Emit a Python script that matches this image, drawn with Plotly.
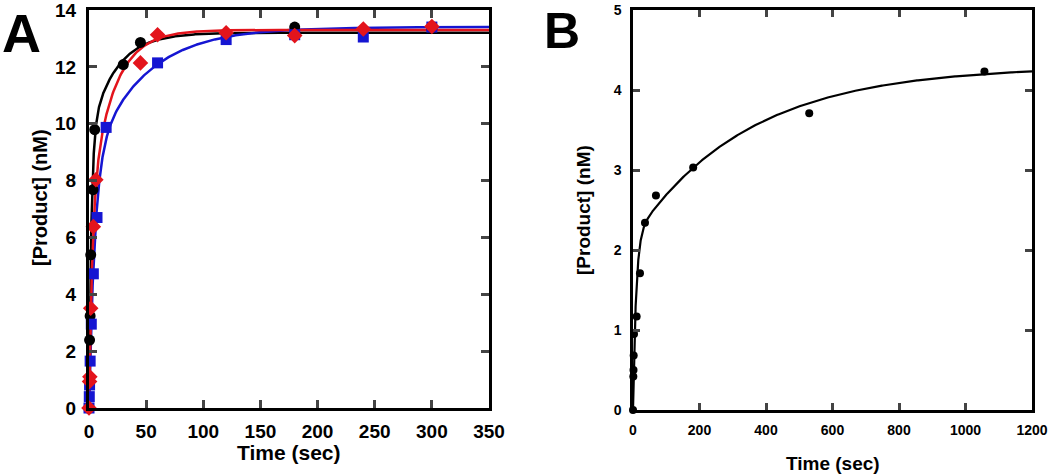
import numpy as np
import plotly.graph_objects as go

# ---------------- Panel A data ----------------
black_t = [0, 0.5, 1, 1.5, 3.5, 5, 30, 45, 180, 300]
black_y = [0, 2.39, 3.24, 5.39, 7.68, 9.79, 12.08, 12.86, 13.40, 13.35]

red_t = [0, 0.5, 0.75, 1.5, 3.8, 6, 45, 60, 120, 180, 240, 300]
red_y = [0, 0.93, 1.10, 3.51, 6.38, 8.03, 12.14, 13.13, 13.20, 13.10, 13.33, 13.42]

blue_t = [0, 0.25, 0.5, 1, 2, 3.8, 7, 15, 60, 120, 180, 240, 300]
blue_y = [0, 0.40, 0.81, 1.65, 2.95, 4.72, 6.70, 9.87, 12.14, 12.96, 13.13, 13.05, 13.40]

# double-exponential fit parameters (A1, k1, A2, k2)
black_fit = (9.5, 0.5, 3.7, 0.045)
red_fit = (7.0, 0.35, 6.3, 0.05)
blue_fit = (8.5, 0.2, 4.9, 0.022)

# ---------------- Panel B data ----------------
b_t = [0, 1, 1.5, 2, 3, 11, 21, 36, 69, 181, 530, 1057]
b_y = [0, 0.42, 0.50, 0.68, 0.95, 1.17, 1.71, 2.34, 2.68, 3.03, 3.71, 4.23]
b_fit = (2.15, 0.11, 2.15, 0.0029)

a_xticks = [0, 50, 100, 150, 200, 250, 300, 350]
a_yticks = [0, 2, 4, 6, 8, 10, 12, 14]
b_xticks = [0, 200, 400, 600, 800, 1000, 1200]
b_yticks = [0, 1, 2, 3, 4, 5]

RED = "#e3141c"
BLUE = "#1515d2"


def model(t, p):
    a1, k1, a2, k2 = p
    t = np.asarray(t, dtype=float)
    return a1 * (1 - np.exp(-k1 * t)) + a2 * (1 - np.exp(-k2 * t))


ta = np.concatenate([np.linspace(0, 20, 300), np.linspace(20, 350, 400)])
tb = np.concatenate([np.linspace(0, 60, 300), np.linspace(60, 1200, 400)])

fig = go.Figure()

# fit lines A
for p, c in [(black_fit, "black"), (blue_fit, BLUE), (red_fit, RED)]:
    fig.add_trace(go.Scatter(x=ta, y=model(ta, p), mode="lines",
                             line=dict(color=c, width=2.5),
                             xaxis="x", yaxis="y", showlegend=False, hoverinfo="skip"))

# markers A
fig.add_trace(go.Scatter(x=black_t, y=black_y, mode="markers",
                         marker=dict(symbol="circle", size=11, color="black"),
                         xaxis="x", yaxis="y", showlegend=False, cliponaxis=False))
fig.add_trace(go.Scatter(x=blue_t, y=blue_y, mode="markers",
                         marker=dict(symbol="square", size=11, color=BLUE),
                         xaxis="x", yaxis="y", showlegend=False, cliponaxis=False))
fig.add_trace(go.Scatter(x=red_t, y=red_y, mode="markers",
                         marker=dict(symbol="diamond", size=12, color=RED),
                         xaxis="x", yaxis="y", showlegend=False, cliponaxis=False))

# Panel B
fig.add_trace(go.Scatter(x=tb, y=model(tb, b_fit), mode="lines",
                         line=dict(color="black", width=2.2),
                         xaxis="x2", yaxis="y2", showlegend=False, hoverinfo="skip"))
fig.add_trace(go.Scatter(x=b_t, y=b_y, mode="markers",
                         marker=dict(symbol="circle", size=8, color="black"),
                         xaxis="x2", yaxis="y2", showlegend=False, cliponaxis=False))

W, H = 1050, 476
FONT = "Liberation Sans, Arial, sans-serif"

axis_common = dict(showline=True, linecolor="black", mirror="ticks", ticks="inside",
                   showgrid=False, zeroline=False, automargin=False,
                   ticklabeloverflow="allow")

fig.update_layout(
    width=W, height=H,
    margin=dict(l=0, r=0, t=0, b=0),
    paper_bgcolor="white", plot_bgcolor="white",
    xaxis=dict(domain=[89 / W, 489 / W], range=[0, 350], tickvals=a_xticks,
               linewidth=3, tickwidth=3, ticklen=8, ticklabelstandoff=4,
               tickfont=dict(family=FONT, size=19, color="black", weight="bold"),
               anchor="y", **axis_common),
    yaxis=dict(domain=[1 - 408 / H, 1 - 10 / H], range=[0, 14], tickvals=a_yticks,
               linewidth=3, tickwidth=3, ticklen=8, ticklabelstandoff=6,
               tickfont=dict(family=FONT, size=19, color="black", weight="bold"),
               anchor="x", **axis_common),
    xaxis2=dict(domain=[633 / W, 1032 / W], range=[0, 1200], tickvals=b_xticks,
                linewidth=2.5, tickwidth=2.5, ticklen=7, ticklabelstandoff=5,
                tickfont=dict(family=FONT, size=14, color="black", weight="bold"),
                anchor="y2", **axis_common),
    yaxis2=dict(domain=[1 - 410 / H, 1 - 10 / H], range=[0, 5], tickvals=b_yticks,
                linewidth=2.5, tickwidth=2.5, ticklen=7, ticklabelstandoff=6,
                tickfont=dict(family=FONT, size=14, color="black", weight="bold"),
                anchor="x2", **axis_common),
)

ann = [
    dict(text="A", x=21 / W, y=1 - 33 / H, size=54),
    dict(text="B", x=562 / W, y=1 - 31 / H, size=50),
    dict(text="Time (sec)", x=289 / W, y=1 - 452 / H, size=21),
    dict(text="[Product] (nM)", x=40 / W, y=1 - 198 / H, size=20, angle=-90),
    dict(text="Time (sec)", x=833 / W, y=1 - 463 / H, size=19),
    dict(text="[Product] (nM)", x=583 / W, y=1 - 210 / H, size=19, angle=-90),
]
for a in ann:
    fig.add_annotation(text=a["text"], x=a["x"], y=a["y"], xref="paper", yref="paper",
                       xanchor="center", yanchor="middle", showarrow=False,
                       textangle=a.get("angle", 0),
                       font=dict(family=FONT, size=a["size"], color="black", weight="bold"))

fig.write_html("out.html", config={"displayModeBar": False},
               post_script="document.body.style.margin='0';document.body.style.overflow='hidden';")
